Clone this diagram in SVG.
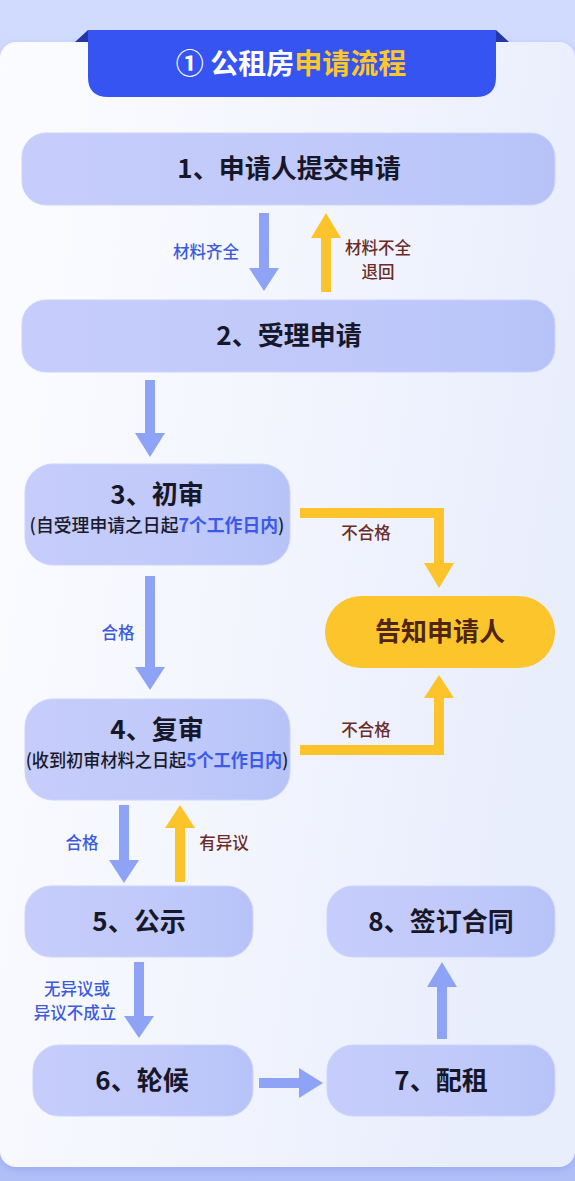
<svg xmlns="http://www.w3.org/2000/svg" width="575" height="1181" viewBox="0 0 575 1181">
<defs>
<linearGradient id="bg" x1="0" y1="0" x2="0" y2="1">
<stop offset="0" stop-color="#d1dbfd"/>
<stop offset="0.5" stop-color="#cad5fc"/>
<stop offset="1" stop-color="#b1bff7"/>
</linearGradient>
<linearGradient id="card" x1="0" y1="0" x2="1" y2="0.3">
<stop offset="0" stop-color="#fbfcff"/>
<stop offset="0.5" stop-color="#f4f6fe"/>
<stop offset="1" stop-color="#e9eefd"/>
</linearGradient>
<linearGradient id="node" x1="0" y1="0" x2="1" y2="0">
<stop offset="0" stop-color="#c6cdfb"/>
<stop offset="0.6" stop-color="#c0c9fa"/>
<stop offset="1" stop-color="#b7c3f8"/>
</linearGradient>
<filter id="sh" x="-5%" y="-5%" width="110%" height="110%">
<feDropShadow dx="0" dy="3" stdDeviation="4" flood-color="#7f93e8" flood-opacity="0.45"/>
</filter>
<style>
.n{fill:url(#node);stroke:#cdd4fc;stroke-width:1}
.t{font-family:"Noto Sans CJK SC","Noto Sans",sans-serif;font-weight:700;font-size:26px;fill:#17172a;text-anchor:middle}
.s{font-family:"Noto Sans CJK SC","Noto Sans",sans-serif;font-weight:500;font-size:18px;fill:#1a1a2c;text-anchor:middle}
.hl{fill:#3a5ae8;font-weight:700}
.b{fill:#8fa3f6}
.y{fill:#fcc42a}
.lb{font-family:"Noto Sans CJK SC","Noto Sans",sans-serif;font-size:16.5px;fill:#3c5ade;text-anchor:middle;font-weight:500}
.lr{font-family:"Noto Sans CJK SC","Noto Sans",sans-serif;font-size:16.5px;fill:#6a2c28;text-anchor:middle;font-weight:500}
</style>
</defs>
<rect x="0" y="0" width="575" height="1181" fill="url(#bg)"/>
<rect x="0" y="42" width="575" height="1125" rx="16" fill="url(#card)" filter="url(#sh)"/>

<g id="header">
<polygon points="75,42 88,30 88,42" fill="#2536a8"/>
<polygon points="496,30 509,42 496,42" fill="#2536a8"/>
<path d="M88,30 H496 V77 Q496,97 476,97 H108 Q88,97 88,77 Z" fill="#3554f2"/>
<text x="291" y="74" font-family="'Noto Sans CJK SC','Noto Sans',sans-serif" font-weight="700" font-size="28" text-anchor="middle"><tspan fill="#ffffff">① 公租房</tspan><tspan fill="#ffc82a">申请流程</tspan></text>
</g>

<g id="connectors">
<rect class="b" x="259" y="213" width="10" height="56"/>
<polygon class="b" points="249,268 279,268 264,291"/>
<text class="lb" x="206" y="258">材料齐全</text>
<rect class="y" x="321" y="237" width="10" height="55"/>
<polygon class="y" points="311,238 341,238 326,213"/>
<text class="lr" x="378" y="254">材料不全</text>
<text class="lr" x="378" y="278">退回</text>
<rect class="b" x="145" y="380" width="10" height="54"/>
<polygon class="b" points="135,433 165,433 150,457"/>
<path class="y" d="M300,508 H444 V564 H434 V518 H300 Z"/>
<polygon class="y" points="424,563 454,563 439,588"/>
<text class="lr" x="366" y="539">不合格</text>
<rect class="b" x="145" y="576" width="10" height="92"/>
<polygon class="b" points="135,667 165,667 150,690"/>
<text class="lb" x="118" y="639">合格</text>
<path class="y" d="M300,745 H434 V697 H444 V755 H300 Z"/>
<polygon class="y" points="424,698 454,698 439,675"/>
<text class="lr" x="366" y="736">不合格</text>
<rect class="b" x="119" y="805" width="10" height="56"/>
<polygon class="b" points="109,860 139,860 124,883"/>
<text class="lb" x="82" y="849">合格</text>
<rect class="y" x="175" y="827" width="10" height="55"/>
<polygon class="y" points="165,828 195,828 180,805"/>
<text class="lr" x="224" y="849">有异议</text>
<rect class="b" x="134" y="962" width="10" height="55"/>
<polygon class="b" points="124,1016 154,1016 139,1038"/>
<text class="lb" x="77" y="995">无异议或</text>
<text class="lb" x="75" y="1019">异议不成立</text>
<rect class="b" x="259" y="1078" width="41" height="10"/>
<polygon class="b" points="299,1068 299,1098 323,1083"/>
<rect class="b" x="437" y="986" width="10" height="53"/>
<polygon class="b" points="427,987 457,987 442,962"/>
</g>

<g id="node1">
<rect class="n" x="22" y="133" width="533" height="72" rx="24"/>
<text class="t" x="289" y="178">1、申请人提交申请</text>
</g>
<g id="node2">
<rect class="n" x="22" y="300" width="533" height="72" rx="24"/>
<text class="t" x="289" y="345">2、受理申请</text>
</g>
<g id="node3">
<rect class="n" x="25" y="464" width="265" height="101" rx="28"/>
<text class="t" x="157" y="504">3、初审</text>
<text class="s" transform="translate(157,532) scale(0.99,1)">(自受理申请之日起<tspan class="hl">7个工作日内</tspan>)</text>
</g>
<g id="notify">
<rect x="325" y="596" width="230" height="72" rx="36" fill="#fcc52b"/>
<text class="t" x="440" y="641" style="fill:#4f2614">告知申请人</text>
</g>
<g id="node4">
<rect class="n" x="25" y="699" width="265" height="101" rx="28"/>
<text class="t" x="157" y="739">4、复审</text>
<text class="s" transform="translate(157,767) scale(0.955,1)">(收到初审材料之日起<tspan class="hl">5个工作日内</tspan>)</text>
</g>
<g id="node5">
<rect class="n" x="25" y="886" width="228" height="71" rx="26"/>
<text class="t" x="139" y="931">5、公示</text>
</g>
<g id="node8">
<rect class="n" x="327" y="886" width="228" height="71" rx="26"/>
<text class="t" x="441" y="931">8、签订合同</text>
</g>
<g id="node6">
<rect class="n" x="33" y="1045" width="220" height="71" rx="26"/>
<text class="t" x="142" y="1090">6、轮候</text>
</g>
<g id="node7">
<rect class="n" x="327" y="1045" width="228" height="71" rx="26"/>
<text class="t" x="441" y="1090">7、配租</text>
</g>
</svg>
